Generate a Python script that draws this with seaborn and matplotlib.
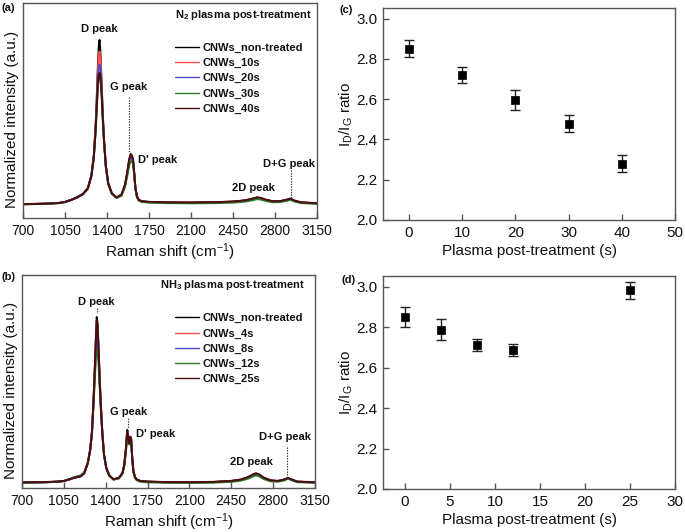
import numpy as np
import pandas as pd
import matplotlib
matplotlib.use('Agg')
import matplotlib.pyplot as plt
import seaborn as sns

# ---------------- data ----------------
# (a) N2 plasma post-treatment Raman spectra (normalized intensity)
labels_a = ['CNWs_non-treated', 'CNWs_10s', 'CNWs_20s', 'CNWs_30s', 'CNWs_40s']
wn_a = [700, 800, 900, 1000, 1050, 1100, 1150, 1200, 1240, 1270, 1290, 1305, 1315, 1325, 1332,
        1338, 1345, 1355, 1365, 1375, 1390, 1410, 1440, 1480, 1520, 1550, 1570, 1585, 1597, 1607,
        1617, 1627, 1637, 1650, 1665, 1690, 1750, 1900, 2100, 2300, 2450, 2550, 2610, 2650, 2680,
        2720, 2780, 2840, 2890, 2930, 2960, 3020, 3150]
a_nontreated = [0.005, 0.006, 0.008, 0.012, 0.018, 0.030, 0.045, 0.065, 0.100, 0.180, 0.300, 0.480, 0.660, 0.860, 0.970,
                1.000, 0.930, 0.740, 0.550, 0.400, 0.240, 0.130, 0.070, 0.045, 0.060, 0.120, 0.200, 0.270, 0.300, 0.290,
                0.270, 0.190, 0.100, 0.050, 0.030, 0.022, 0.018, 0.015, 0.014, 0.016, 0.020, 0.027, 0.037, 0.045, 0.042,
                0.032, 0.022, 0.022, 0.030, 0.038, 0.026, 0.015, 0.010]
a_10s = [0.006, 0.007, 0.009, 0.013, 0.019, 0.031, 0.046, 0.066, 0.100, 0.178, 0.295, 0.470, 0.640, 0.830, 0.915,
         0.930, 0.900, 0.730, 0.545, 0.398, 0.240, 0.132, 0.072, 0.046, 0.060, 0.118, 0.195, 0.262, 0.290, 0.285,
         0.265, 0.188, 0.100, 0.050, 0.030, 0.022, 0.018, 0.015, 0.014, 0.016, 0.020, 0.027, 0.036, 0.044, 0.041,
         0.031, 0.022, 0.022, 0.029, 0.037, 0.026, 0.015, 0.010]
a_20s = [0.005, 0.006, 0.008, 0.012, 0.018, 0.031, 0.047, 0.068, 0.102, 0.178, 0.292, 0.460, 0.620, 0.780, 0.840,
         0.850, 0.835, 0.700, 0.530, 0.390, 0.236, 0.130, 0.070, 0.045, 0.059, 0.116, 0.192, 0.258, 0.288, 0.283,
         0.262, 0.186, 0.098, 0.049, 0.029, 0.021, 0.017, 0.014, 0.013, 0.015, 0.019, 0.026, 0.035, 0.043, 0.040,
         0.030, 0.021, 0.021, 0.028, 0.036, 0.025, 0.014, 0.009]
a_30s = [0.004, 0.005, 0.007, 0.011, 0.017, 0.030, 0.046, 0.066, 0.098, 0.172, 0.282, 0.440, 0.590, 0.730, 0.770,
         0.780, 0.765, 0.665, 0.510, 0.378, 0.230, 0.126, 0.067, 0.042, 0.055, 0.108, 0.180, 0.240, 0.262, 0.268,
         0.250, 0.180, 0.094, 0.046, 0.026, 0.018, 0.014, 0.011, 0.010, 0.011, 0.014, 0.020, 0.028, 0.035, 0.033,
         0.025, 0.016, 0.017, 0.024, 0.031, 0.021, 0.011, 0.007]
a_40s = [0.005, 0.006, 0.008, 0.012, 0.018, 0.030, 0.045, 0.066, 0.100, 0.176, 0.288, 0.450, 0.600, 0.750, 0.795,
         0.800, 0.780, 0.680, 0.525, 0.390, 0.238, 0.132, 0.071, 0.046, 0.062, 0.124, 0.205, 0.280, 0.310, 0.302,
         0.280, 0.196, 0.104, 0.052, 0.031, 0.023, 0.019, 0.016, 0.015, 0.017, 0.021, 0.028, 0.038, 0.046, 0.043,
         0.033, 0.023, 0.023, 0.031, 0.039, 0.027, 0.016, 0.011]

# (b) NH3 plasma post-treatment Raman spectra
labels_b = ['CNWs_non-treated', 'CNWs_4s', 'CNWs_8s', 'CNWs_12s', 'CNWs_25s']
wn_b = [700, 800, 900, 1000, 1050, 1100, 1130, 1160, 1190, 1220, 1250, 1270, 1285, 1298, 1310,
        1318, 1325, 1332, 1340, 1350, 1360, 1372, 1386, 1405, 1430, 1465, 1510, 1540, 1555, 1568,
        1580, 1590, 1597, 1605, 1612, 1622, 1632, 1645, 1660, 1690, 1750, 1900, 2100, 2300, 2450,
        2530, 2590, 2630, 2655, 2680, 2720, 2780, 2840, 2890, 2925, 2950, 3000, 3150]
b_nontreated = [0.003, 0.004, 0.005, 0.008, 0.012, 0.022, 0.030, 0.035, 0.040, 0.058, 0.120, 0.200, 0.310, 0.500, 0.720,
                0.880, 1.000, 0.960, 0.820, 0.620, 0.460, 0.300, 0.170, 0.090, 0.045, 0.022, 0.030, 0.060, 0.110, 0.200,
                0.320, 0.270, 0.240, 0.280, 0.270, 0.150, 0.070, 0.035, 0.020, 0.012, 0.008, 0.005, 0.004, 0.006, 0.012,
                0.020, 0.035, 0.050, 0.058, 0.052, 0.032, 0.015, 0.012, 0.020, 0.030, 0.022, 0.008, 0.004]
b_4s = [0.003, 0.004, 0.005, 0.008, 0.012, 0.022, 0.030, 0.035, 0.040, 0.058, 0.118, 0.198, 0.305, 0.490, 0.700,
        0.850, 0.950, 0.925, 0.800, 0.610, 0.455, 0.298, 0.170, 0.090, 0.045, 0.022, 0.030, 0.060, 0.108, 0.196,
        0.312, 0.265, 0.238, 0.275, 0.266, 0.148, 0.069, 0.035, 0.020, 0.012, 0.008, 0.005, 0.004, 0.006, 0.012,
        0.020, 0.034, 0.049, 0.056, 0.051, 0.031, 0.015, 0.012, 0.019, 0.029, 0.021, 0.008, 0.004]
b_8s = [0.003, 0.004, 0.005, 0.008, 0.012, 0.023, 0.031, 0.036, 0.041, 0.059, 0.118, 0.196, 0.300, 0.478, 0.670,
        0.810, 0.880, 0.870, 0.770, 0.595, 0.448, 0.295, 0.168, 0.089, 0.045, 0.022, 0.030, 0.059, 0.106, 0.192,
        0.305, 0.262, 0.236, 0.272, 0.263, 0.146, 0.068, 0.034, 0.019, 0.011, 0.007, 0.004, 0.003, 0.005, 0.011,
        0.019, 0.033, 0.047, 0.054, 0.049, 0.030, 0.014, 0.011, 0.018, 0.028, 0.020, 0.007, 0.003]
b_12s = [0.002, 0.003, 0.004, 0.007, 0.012, 0.025, 0.034, 0.040, 0.046, 0.064, 0.122, 0.198, 0.298, 0.468, 0.640,
         0.760, 0.800, 0.795, 0.720, 0.570, 0.435, 0.290, 0.166, 0.088, 0.044, 0.020, 0.027, 0.055, 0.100, 0.180,
         0.280, 0.250, 0.232, 0.262, 0.255, 0.142, 0.064, 0.031, 0.016, 0.008, 0.004, 0.002, 0.001, 0.002, 0.007,
         0.014, 0.026, 0.039, 0.045, 0.041, 0.024, 0.010, 0.008, 0.015, 0.026, 0.018, 0.005, 0.002]
b_25s = [0.004, 0.005, 0.006, 0.009, 0.013, 0.023, 0.031, 0.036, 0.041, 0.059, 0.120, 0.200, 0.308, 0.495, 0.712,
         0.868, 0.980, 0.945, 0.812, 0.618, 0.458, 0.300, 0.171, 0.091, 0.046, 0.023, 0.031, 0.061, 0.110, 0.198,
         0.316, 0.268, 0.240, 0.278, 0.268, 0.150, 0.070, 0.036, 0.021, 0.013, 0.009, 0.006, 0.005, 0.007, 0.013,
         0.021, 0.036, 0.051, 0.058, 0.053, 0.033, 0.016, 0.013, 0.021, 0.031, 0.023, 0.009, 0.005]

# (c) ID/IG ratio vs N2 plasma time
time_c = [0, 10, 20, 30, 40]
ratio_c = [2.850, 2.720, 2.597, 2.478, 2.280]
err_c = [0.042, 0.042, 0.050, 0.042, 0.042]

# (d) ID/IG ratio vs NH3 plasma time
time_d = [0, 4, 8, 12, 25]
ratio_d = [2.852, 2.788, 2.712, 2.686, 2.983]
err_d = [0.050, 0.050, 0.032, 0.030, 0.042]

raman_ticks = [700, 1050, 1400, 1750, 2100, 2450, 2800, 3150]
colors = ['#000000', '#ff4a4a', '#4b4bc8', '#2f7a2f', '#4a0d0d']

# ---------------- style ----------------
sns.set_theme(style='white')
plt.rcParams['font.family'] = ['Liberation Sans', 'DejaVu Sans']
plt.rcParams['mathtext.fontset'] = 'custom'
plt.rcParams['mathtext.rm'] = 'Liberation Sans'
plt.rcParams['mathtext.it'] = 'Liberation Sans:italic'
plt.rcParams['mathtext.bf'] = 'Liberation Sans:bold'
plt.rcParams['axes.edgecolor'] = '#555555'
plt.rcParams['axes.linewidth'] = 1.0

W, H = 685, 532
fig = plt.figure(figsize=(W / 100, H / 100), dpi=100)


def ax_at(l, t, r, b):
    return fig.add_axes([l / W, 1 - b / H, (r - l) / W, (b - t) / H])


ax_a = ax_at(23, 3, 317, 218)
ax_b = ax_at(22, 275, 315, 488)
ax_c = ax_at(383, 8, 675, 220)
ax_d = ax_at(383, 276, 675, 489)

TXT = '#111111'


def spectra(ax, wn, series, labels, ylim, leg_anchor, title, title_xy, notes, lines):
    rows = []
    for lab, vals in zip(labels, series):
        for w, v in zip(wn, vals):
            rows.append((lab, w, v))
    df = pd.DataFrame(rows, columns=['sample', 'wn', 'I'])
    sns.lineplot(data=df, x='wn', y='I', hue='sample', hue_order=labels, palette=colors,
                 estimator=None, sort=False, linewidth=1.4, ax=ax)
    ax.set_xlim(700, 3150)
    ax.set_ylim(*ylim)
    ax.set_xticks(raman_ticks)
    ax.set_yticks([])
    ax.tick_params(axis='x', direction='in', length=4, width=1, color='#555555',
                   labelsize=10, labelcolor=TXT, pad=4, bottom=True)
    ax.set_xlabel(r'Raman shift (cm$^{\mathregular{-1}}$)', fontsize=11, color=TXT, labelpad=3)
    ax.set_ylabel('Normalized intensity (a.u.)', fontsize=11, color=TXT)
    ax.yaxis.set_label_coords(-0.013, 0.46)
    h, l = ax.get_legend_handles_labels()
    leg = ax.legend(h, l, loc='upper left', bbox_to_anchor=leg_anchor, frameon=False,
                    prop=dict(weight='bold', size=8), handlelength=2.2, handletextpad=0.25,
                    labelspacing=0.46, borderpad=0, borderaxespad=0)
    for ln in leg.get_lines():
        ln.set_linewidth(1.0)
    for t in leg.get_texts():
        t.set_color(TXT)
    ax.text(title_xy[0], title_xy[1], title, transform=ax.transAxes, ha='right', va='center',
            fontsize=8, fontweight='bold', color=TXT)
    for (x, y, s, ha) in notes:
        ax.text(x, y, s, ha=ha, va='center', fontsize=8, fontweight='bold', color=TXT)
    for (x, y0, y1) in lines:
        ax.plot([x, x], [y0, y1], ls=(0, (1.2, 1.2)), lw=0.8, color='#333333')


spectra(ax_a, wn_a, [a_nontreated, a_10s, a_20s, a_30s, a_40s], labels_a,
        (-0.079, 1.224), (0.517, 0.815),
        r'N$_\mathbf{2}$ plasma post-treatment', (0.983, 0.944),
        [(1333, 1.067, 'D peak', 'center'), (1583, 0.717, 'G peak', 'center'),
         (1658, 0.273, "D' peak", 'left'), (2617, 0.103, '2D peak', 'center'),
         (2914, 0.248, 'D+G peak', 'center')],
        [(1586, 0.656, 0.315), (2931, 0.212, 0.03)])

spectra(ax_b, wn_b, [b_nontreated, b_4s, b_8s, b_12s, b_25s], labels_b,
        (-0.03, 1.253), (0.522, 0.82),
        r'NH$_\mathbf{3}$ plasma post-treatment', (0.966, 0.953),
        [(1324, 1.092, 'D peak', 'center'), (1589, 0.43, 'G peak', 'center'),
         (1653, 0.295, "D' peak", 'left'), (2620, 0.128, '2D peak', 'center'),
         (2899, 0.279, 'D+G peak', 'center')],
        [(1324, 1.054, 1.024), (1584, 0.39, 0.33), (2918, 0.219, 0.038)])


def ratio_panel(ax, t, r, e, xlim, xticks):
    ax.errorbar(t, r, yerr=e, fmt='none', ecolor='#222222', elinewidth=1.0, capsize=3.5, capthick=1.0)
    sns.scatterplot(x=t, y=r, marker='s', s=40, color='black', edgecolor='black', linewidth=0.5,
                    ax=ax, zorder=3)
    ax.set_xlim(*xlim)
    ax.set_ylim(2.0, 3.053)
    ax.set_xticks(xticks)
    ax.set_yticks([2.0, 2.2, 2.4, 2.6, 2.8, 3.0])
    ax.yaxis.set_major_formatter(matplotlib.ticker.FormatStrFormatter('%.1f'))
    ax.tick_params(direction='in', length=4, width=1, color='#555555', labelsize=11,
                   labelcolor=TXT, left=True, bottom=True, pad=4)
    ax.set_xlabel('Plasma post-treatment (s)', fontsize=11, color=TXT, labelpad=3)
    ax.set_ylabel(r'I$_\mathregular{D}$/I$_\mathregular{G}$ ratio', fontsize=11, color=TXT)
    ax.yaxis.set_label_coords(-0.096, 0.5)


ratio_panel(ax_c, time_c, ratio_c, err_c, (-4.9, 50), [0, 10, 20, 30, 40, 50])
ratio_panel(ax_d, time_d, ratio_d, err_d, (-2.45, 30), [0, 5, 10, 15, 20, 25, 30])

for s, x, y in [('(a)', 1, 8), ('(b)', 2, 277), ('(c)', 339, 10), ('(d)', 341, 280)]:
    fig.text(x / W, 1 - y / H, s, ha='left', va='center', fontsize=8, fontweight='bold', color=TXT)

fig.savefig('out.png', dpi=100)
